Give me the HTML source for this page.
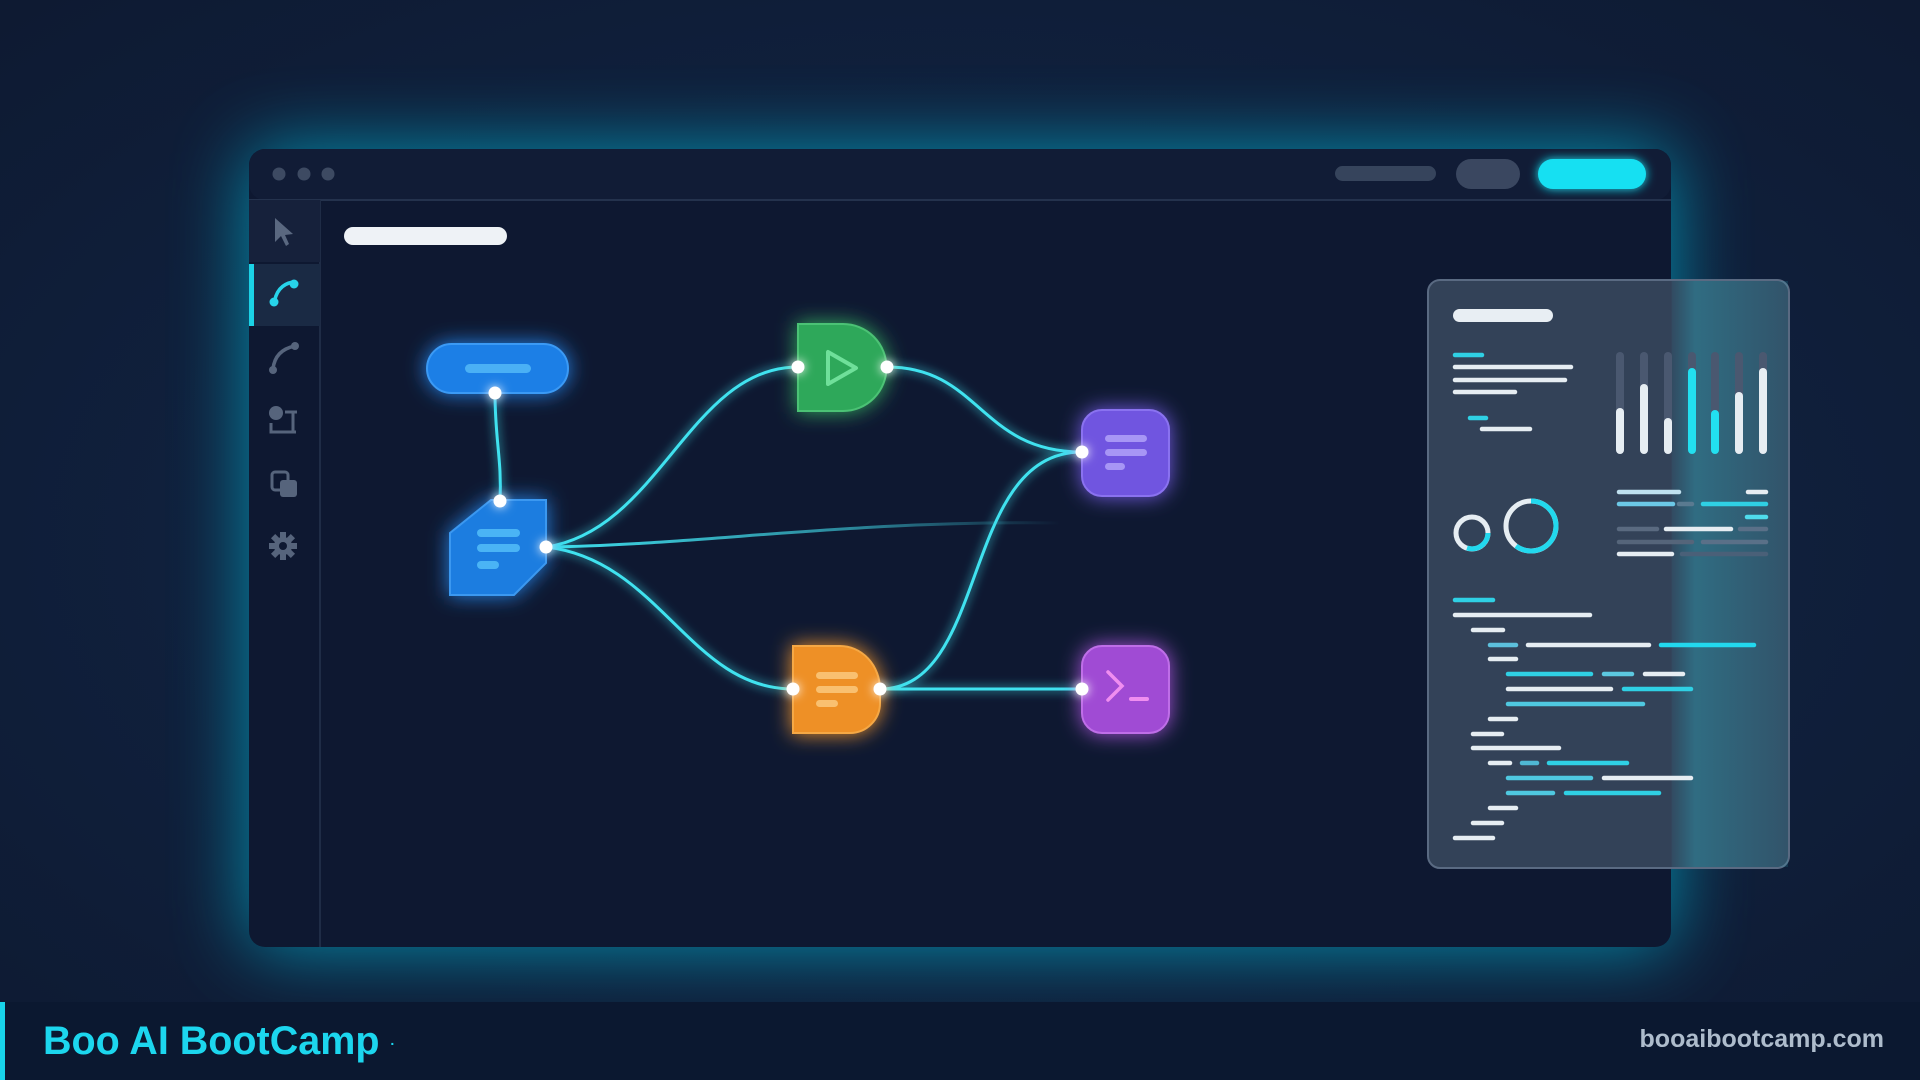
<!DOCTYPE html>
<html><head><meta charset="utf-8"><style>
html,body{margin:0;padding:0;background:#0f1c35;}
body{width:1920px;height:1080px;overflow:hidden;position:relative;font-family:"Liberation Sans",sans-serif;}
svg{position:absolute;left:0;top:0}
.foot{position:absolute;left:0;top:1002px;width:1920px;height:78px;background:#0b1830;}
.foot .bar{position:absolute;left:0;top:0;width:5px;height:78px;background:#18d4ea}
.foot .l{position:absolute;left:43px;top:17px;font-size:39.5px;font-weight:bold;color:#1cd6ee}
.foot .r{position:absolute;right:36px;top:23px;font-size:25px;font-weight:bold;color:#aebccc}
</style></head><body>
<svg width="1920" height="1080" viewBox="0 0 1920 1080">
<defs>
<radialGradient id="bg" cx="50%" cy="50%" r="70%"><stop offset="0" stop-color="#12284a"/><stop offset="1" stop-color="#0e1a32"/></radialGradient>
<filter id="b40" x="-30%" y="-30%" width="160%" height="160%"><feGaussianBlur stdDeviation="38"/></filter>
<filter id="gl" x="-50%" y="-50%" width="200%" height="200%"><feGaussianBlur stdDeviation="5" result="b"/><feMerge><feMergeNode in="b"/><feMergeNode in="SourceGraphic"/></feMerge></filter>
<filter id="gl2" x="-50%" y="-50%" width="200%" height="200%"><feGaussianBlur stdDeviation="10" result="b"/><feMerge><feMergeNode in="b"/><feMergeNode in="SourceGraphic"/></feMerge></filter>
<linearGradient id="fade" x1="546" y1="0" x2="1060" y2="0" gradientUnits="userSpaceOnUse"><stop offset="0" stop-color="#3fe0ee" stop-opacity="1"/><stop offset="0.6" stop-color="#3fd0e0" stop-opacity="0.6"/><stop offset="1" stop-color="#3fd0e0" stop-opacity="0"/></linearGradient>
<linearGradient id="col" x1="0" y1="0" x2="1" y2="0"><stop offset="0" stop-color="#1fb6cc" stop-opacity="0.05"/><stop offset="0.2" stop-color="#2ab8cc" stop-opacity="0.35"/><stop offset="1" stop-color="#2ab8cc" stop-opacity="0.15"/></linearGradient>
</defs>
<rect width="1920" height="1080" fill="url(#bg)"/>
<rect x="249" y="149" width="1422" height="798" rx="16" fill="#0bb5d4" opacity="0.75" filter="url(#b40)"/>
<rect x="249" y="149" width="1422" height="798" rx="16" fill="#0e1831"/>
<rect x="249" y="149" width="1422" height="51" rx="16" fill="#111c36"/>
<line x1="249" y1="200" x2="1671" y2="200" stroke="#24324d" stroke-width="2"/>
<line x1="320" y1="200" x2="320" y2="947" stroke="#1f2c46" stroke-width="2"/>
<circle cx="279" cy="174" r="6.5" fill="#3d4a62"/><circle cx="304" cy="174" r="6.5" fill="#3d4a62"/><circle cx="328" cy="174" r="6.5" fill="#3d4a62"/>
<rect x="1335" y="166" width="101" height="15" rx="7.5" fill="#36445c"/>
<rect x="1456" y="159" width="64" height="30" rx="15" fill="#3a4760"/>
<rect x="1538" y="159" width="108" height="30" rx="15" fill="#18e0f2" filter="url(#gl)"/>
<rect x="344" y="227" width="163" height="18" rx="9" fill="#eef2f6"/>
<rect x="249" y="200" width="71" height="62" fill="#16213b"/>
<rect x="249" y="264" width="71" height="62" fill="#1a2a44"/>
<rect x="249" y="264" width="5" height="62" fill="#1bd2e6"/>
<path d="M275,218 L275,242 L281,236 L286,246 L289,244 L285,235 L293,234 Z" fill="#5a6880"/>
<path d="M274,305 Q276,285 293,282" stroke="#27d4ea" stroke-width="3.5" fill="none"/><circle cx="274" cy="302" r="4.5" fill="#27d4ea"/><circle cx="294" cy="284" r="4.5" fill="#27d4ea"/>
<path d="M273,369 Q275,350 295,346" stroke="#56647c" stroke-width="3.5" fill="none"/><circle cx="273" cy="370" r="4" fill="#56647c"/><circle cx="295" cy="346" r="4" fill="#56647c"/>
<circle cx="276" cy="413" r="7" fill="#56647c"/><path d="M271,423 V432 H296 M293,412 V432 M285,412 H297" stroke="#56647c" stroke-width="3" fill="none"/>
<rect x="272" y="472" width="16" height="18" rx="3" fill="none" stroke="#56647c" stroke-width="3"/><rect x="280" y="480" width="17" height="17" rx="3" fill="#56647c"/>
<g transform="translate(283,546)" fill="#56647c"><circle r="9"/><g><rect x="-3" y="-14" width="6" height="28"/><rect x="-3" y="-14" width="6" height="28" transform="rotate(45)"/><rect x="-3" y="-14" width="6" height="28" transform="rotate(90)"/><rect x="-3" y="-14" width="6" height="28" transform="rotate(135)"/></g><circle r="4" fill="#0e1831"/></g>
<g fill="none" stroke="#3fe2ef" stroke-width="3" filter="url(#gl)">
<path d="M495,393 C495,440 502,460 500,501"/>
<path d="M546,547 C660,530 690,367 798,367"/>
<path d="M546,547 C660,560 690,689 793,689"/>
<path d="M887,367 C980,367 980,452 1082,452"/>
<path d="M880,689 C990,689 960,452 1082,452"/>
<path d="M880,689 L1082,689"/>
</g>
<path d="M546,547 C700,545 850,520 1060,523" fill="none" stroke="url(#fade)" stroke-width="3"/>
<g filter="url(#gl2)">
<rect x="427" y="344" width="141" height="49" rx="24.5" fill="#1f7fe6" stroke="#3a9af5" stroke-width="2"/>
<path d="M491,500 H546 V563 L514,595 H450 V533 Z" fill="#1f7de0" stroke="#3a98f0" stroke-width="2"/>
<path d="M798,324 H843 A43.5,43.5 0 0 1 843,411 H798 Z" fill="#2fa85a" stroke="#4cc274" stroke-width="2"/>
<path d="M793,646 H840 A40,43.5 0 0 1 880,689 V703 A30,30 0 0 1 850,733 H793 Z" fill="#ee9025" stroke="#f5a845" stroke-width="2"/>
<rect x="1082" y="410" width="87" height="86" rx="20" fill="#6f55e0" stroke="#8a72f0" stroke-width="2"/>
<rect x="1082" y="646" width="87" height="87" rx="20" fill="#a04cd4" stroke="#bf6ee8" stroke-width="2"/>
</g>
<rect x="465" y="364" width="66" height="9" rx="4.5" fill="#4ab0f5"/>
<rect x="477" y="529" width="43" height="8" rx="4" fill="#4ab4f5"/><rect x="477" y="544" width="43" height="8" rx="4" fill="#4ab4f5"/><rect x="477" y="561" width="22" height="8" rx="4" fill="#4ab4f5"/>
<path d="M828,352 L828,384 L856,368 Z" fill="none" stroke="#6fe09a" stroke-width="4" stroke-linejoin="round"/>
<rect x="816" y="672" width="42" height="7" rx="3.5" fill="#f9c070"/><rect x="816" y="686" width="42" height="7" rx="3.5" fill="#f9c070"/><rect x="816" y="700" width="22" height="7" rx="3.5" fill="#f9c070"/>
<rect x="1105" y="435" width="42" height="7" rx="3.5" fill="#a796f5"/><rect x="1105" y="449" width="42" height="7" rx="3.5" fill="#a796f5"/><rect x="1105" y="463" width="20" height="7" rx="3.5" fill="#a796f5"/>
<path d="M1108,672 L1122,686 L1108,700" fill="none" stroke="#f08ef0" stroke-width="3.5" stroke-linecap="round"/><rect x="1129" y="697" width="20" height="4" rx="2" fill="#f08ef0"/>
<g fill="#ffffff" filter="url(#gl)">
<circle cx="495" cy="393" r="6.5"/><circle cx="500" cy="501" r="6.5"/><circle cx="546" cy="547" r="6.5"/>
<circle cx="798" cy="367" r="6.5"/><circle cx="887" cy="367" r="6.5"/><circle cx="793" cy="689" r="6.5"/><circle cx="880" cy="689" r="6.5"/>
<circle cx="1082" cy="452" r="6.5"/><circle cx="1082" cy="689" r="6.5"/>
</g>
<rect x="1428" y="280" width="361" height="588" rx="12" fill="#36445b" fill-opacity="0.95" stroke="#5a6a82" stroke-width="2"/>
<rect x="1672" y="281" width="116" height="586" fill="url(#col)"/>
<rect x="1453" y="309" width="100" height="13" rx="6.5" fill="#e8eef3"/>
<g stroke-linecap="round" stroke-width="4.5">
<line x1="1455" y1="355" x2="1482" y2="355" stroke="#2fd0e4"/>
<line x1="1455" y1="367" x2="1571" y2="367" stroke="#e6edf2"/>
<line x1="1455" y1="380" x2="1565" y2="380" stroke="#e6edf2"/>
<line x1="1455" y1="392" x2="1515" y2="392" stroke="#e6edf2"/>
<line x1="1470" y1="418" x2="1486" y2="418" stroke="#2fd0e4"/>
<line x1="1482" y1="429" x2="1530" y2="429" stroke="#e6edf2"/>
</g>
<g stroke-linecap="round" stroke-width="8">
<g stroke="#4a5870"><line x1="1620" y1="356" x2="1620" y2="450"/><line x1="1644" y1="356" x2="1644" y2="450"/><line x1="1668" y1="356" x2="1668" y2="450"/><line x1="1692" y1="356" x2="1692" y2="450"/><line x1="1715" y1="356" x2="1715" y2="450"/><line x1="1739" y1="356" x2="1739" y2="450"/><line x1="1763" y1="356" x2="1763" y2="450"/></g>
<line x1="1620" y1="412" x2="1620" y2="450" stroke="#e6edf2"/>
<line x1="1644" y1="388" x2="1644" y2="450" stroke="#e6edf2"/>
<line x1="1668" y1="422" x2="1668" y2="450" stroke="#e6edf2"/>
<line x1="1692" y1="372" x2="1692" y2="450" stroke="#22e0f0"/>
<line x1="1715" y1="414" x2="1715" y2="450" stroke="#22e0f0"/>
<line x1="1739" y1="396" x2="1739" y2="450" stroke="#e6edf2"/>
<line x1="1763" y1="372" x2="1763" y2="450" stroke="#e6edf2"/>
</g>
<circle cx="1472" cy="533" r="16" fill="none" stroke="#e6edf2" stroke-width="5"/>
<path d="M1488,533 A16,16 0 0 1 1467,548" fill="none" stroke="#22d8ee" stroke-width="5"/>
<circle cx="1531" cy="526" r="25" fill="none" stroke="#e6edf2" stroke-width="5"/>
<path d="M1531,501 A25,25 0 1 1 1516,546" fill="none" stroke="#22d8ee" stroke-width="5"/>
<g stroke-linecap="round" stroke-width="4.5">
<line x1="1619" y1="492" x2="1679" y2="492" stroke="#bfe0ee"/><line x1="1748" y1="492" x2="1766" y2="492" stroke="#e6edf2"/>
<line x1="1619" y1="504" x2="1673" y2="504" stroke="#6cc8e6"/><line x1="1679" y1="504" x2="1692" y2="504" stroke="#5a7a90"/><line x1="1703" y1="504" x2="1766" y2="504" stroke="#2fd0e4"/>
<line x1="1747" y1="517" x2="1766" y2="517" stroke="#4fdcec"/>
<line x1="1619" y1="529" x2="1657" y2="529" stroke="#5a6a80"/><line x1="1666" y1="529" x2="1731" y2="529" stroke="#e6edf2"/><line x1="1740" y1="529" x2="1766" y2="529" stroke="#5a7088"/>
<line x1="1619" y1="542" x2="1692" y2="542" stroke="#55657a"/><line x1="1703" y1="542" x2="1766" y2="542" stroke="#5a7088"/>
<line x1="1619" y1="554" x2="1672" y2="554" stroke="#e6edf2"/><line x1="1682" y1="554" x2="1766" y2="554" stroke="#4a6078"/>
</g>
<g stroke-linecap="round" stroke-width="4.5">
<line x1="1455" y1="600" x2="1493" y2="600" stroke="#2fd0e4"/>
<line x1="1455" y1="615" x2="1590" y2="615" stroke="#e6edf2"/>
<line x1="1473" y1="630" x2="1503" y2="630" stroke="#e6edf2"/>
<line x1="1490" y1="645" x2="1516" y2="645" stroke="#5cc0dc"/><line x1="1528" y1="645" x2="1649" y2="645" stroke="#e6edf2"/><line x1="1661" y1="645" x2="1754" y2="645" stroke="#22d8ee"/>
<line x1="1490" y1="659" x2="1516" y2="659" stroke="#e6edf2"/>
<line x1="1508" y1="674" x2="1591" y2="674" stroke="#2fd0e4"/><line x1="1604" y1="674" x2="1632" y2="674" stroke="#5cc8e0"/><line x1="1645" y1="674" x2="1683" y2="674" stroke="#e6edf2"/>
<line x1="1508" y1="689" x2="1611" y2="689" stroke="#e6edf2"/><line x1="1624" y1="689" x2="1691" y2="689" stroke="#2fd0e4"/>
<line x1="1508" y1="704" x2="1643" y2="704" stroke="#4fc8e0"/>
<line x1="1490" y1="719" x2="1516" y2="719" stroke="#e6edf2"/>
<line x1="1473" y1="734" x2="1502" y2="734" stroke="#e6edf2"/>
<line x1="1473" y1="748" x2="1559" y2="748" stroke="#e6edf2"/>
<line x1="1490" y1="763" x2="1510" y2="763" stroke="#e6edf2"/><line x1="1522" y1="763" x2="1537" y2="763" stroke="#4fb8d4"/><line x1="1549" y1="763" x2="1627" y2="763" stroke="#2fd0e4"/>
<line x1="1508" y1="778" x2="1591" y2="778" stroke="#4fc8e0"/><line x1="1604" y1="778" x2="1691" y2="778" stroke="#e6edf2"/>
<line x1="1508" y1="793" x2="1553" y2="793" stroke="#4fc8e0"/><line x1="1566" y1="793" x2="1659" y2="793" stroke="#2fd0e4"/>
<line x1="1490" y1="808" x2="1516" y2="808" stroke="#e6edf2"/>
<line x1="1473" y1="823" x2="1502" y2="823" stroke="#e6edf2"/>
<line x1="1455" y1="838" x2="1493" y2="838" stroke="#e6edf2"/>
</g>
</svg>
<div class="foot"><div class="bar"></div><div class="l">Boo AI BootCamp <span style="font-size:14px;vertical-align:middle">·</span></div><div class="r">booaibootcamp.com</div></div>
</body></html>
